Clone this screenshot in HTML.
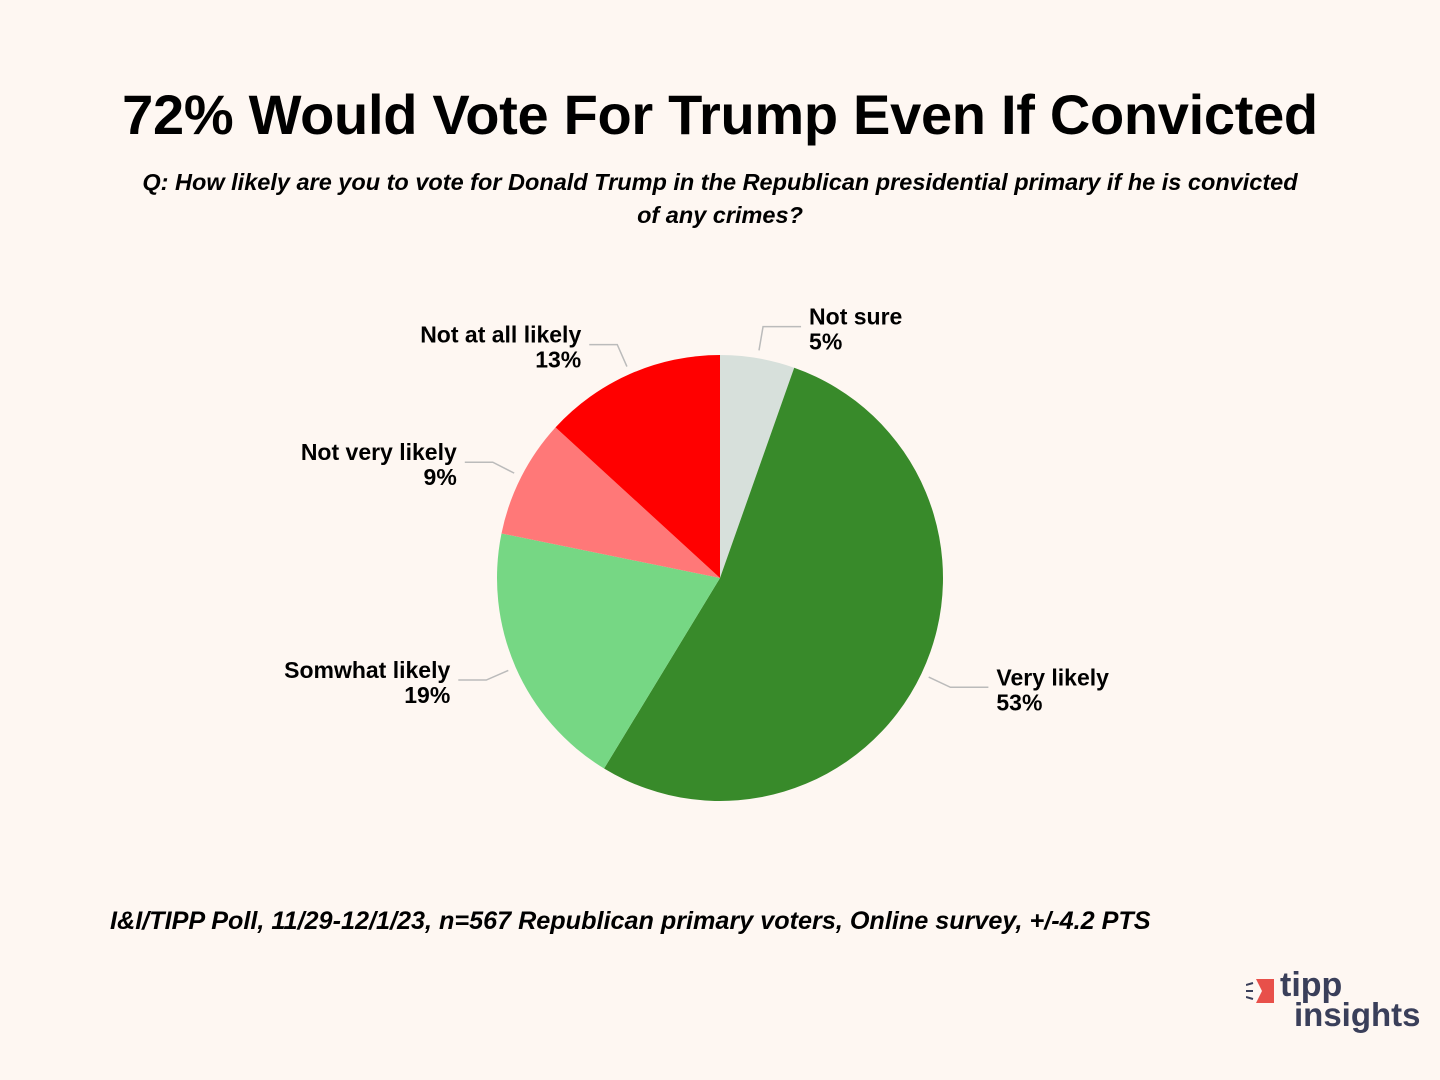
<!DOCTYPE html>
<html><head><meta charset="utf-8"><style>
body{margin:0;background:#fef7f2;font-family:"Liberation Sans",sans-serif;}
#wrap{position:relative;width:1440px;height:1080px;overflow:hidden;background:#fef7f2;}
.t{position:absolute;color:#000;}
</style></head><body>
<div id="wrap">
<div class="t" style="left:0;width:1440px;top:82px;text-align:center;font-size:56px;font-weight:bold;letter-spacing:-0.3px;">72% Would Vote For Trump Even If Convicted</div>
<div class="t" style="left:110px;width:1220px;top:166px;text-align:center;font-size:23.5px;font-weight:bold;font-style:italic;line-height:33px;">Q: How likely are you to vote for Donald Trump in the Republican presidential primary if he is convicted<br>of any crimes?</div>
<svg id="pie" width="1440" height="1080" style="position:absolute;left:0;top:0"></svg>
<div class="t" style="left:110px;top:907px;font-size:25.2px;font-weight:bold;font-style:italic;">I&amp;I/TIPP Poll, 11/29-12/1/23, n=567 Republican primary voters, Online survey, +/-4.2 PTS</div>
<div style="position:absolute;left:1246px;top:975px;">
<svg width="30" height="28" style="position:absolute;left:0;top:2px"><line x1="0" y1="8" x2="7" y2="6" stroke="#3a3f5a" stroke-width="2"/><line x1="0" y1="14" x2="7" y2="14" stroke="#3a3f5a" stroke-width="2"/><line x1="0" y1="20" x2="7" y2="22" stroke="#3a3f5a" stroke-width="2"/><polygon points="10,2 28,2 28,26 10,26 16,14" fill="#e8504a"/></svg>
<div style="position:absolute;left:34px;top:-6px;font-size:34px;font-weight:bold;color:#3a3f5a;line-height:32px;">tipp</div>
<div style="position:absolute;left:48px;top:24px;font-size:33px;font-weight:bold;color:#3a3f5a;line-height:32px;">insights</div>
</div>
</div>
<script>
const categories=["Not sure","Very likely","Somwhat likely","Not very likely","Not at all likely"];
const values=[5.4,53.3,19.5,8.6,13.2];
const printed=["5%","53%","19%","9%","13%"];
const colors=["#d7e0db","#388a2a","#76d784","#ff7878","#ff0000"];
const svg=document.getElementById('pie');
const NS="http://www.w3.org/2000/svg";
const cx=720,cy=578,r=223;
const total=values.reduce((a,b)=>a+b,0);
function pt(frac,rad){const a=frac*2*Math.PI;return [cx+rad*Math.sin(a),cy-rad*Math.cos(a)];}
let cum=0;
values.forEach((v,i)=>{
 const s=cum/total,e=(cum+v)/total;cum+=v;
 const p0=pt(s,r),p1=pt(e,r);
 const path=document.createElementNS(NS,'path');
 path.setAttribute('d',`M${cx},${cy}L${p0[0]},${p0[1]}A${r},${r} 0 ${e-s>0.5?1:0} 1 ${p1[0]},${p1[1]}Z`);
 path.setAttribute('fill',colors[i]);
 
 
 svg.appendChild(path);
 const m=(s+e)/2;const a=pt(m,r+8),b=pt(m,r+32);
 const right=Math.sin(m*2*Math.PI)>=0;
 const c=[b[0]+(right?38:-28),b[1]];
 const ln=document.createElementNS(NS,'polyline');
 ln.setAttribute('points',`${a[0]},${a[1]} ${b[0]},${b[1]} ${c[0]},${c[1]}`);
 ln.setAttribute('fill','none');ln.setAttribute('stroke','#bbbbbb');ln.setAttribute('stroke-width','1.5');
 
 
 svg.appendChild(ln);
 const tx=c[0]+(right?8:-8);
 const t=document.createElementNS(NS,'text');
 t.setAttribute('x',tx);t.setAttribute('y',c[1]-2);
 t.setAttribute('text-anchor',right?'start':'end');
 t.setAttribute('font-family','Liberation Sans, sans-serif');t.setAttribute('font-size','23');
 t.setAttribute('font-weight','bold');
 
 
 const s1=document.createElementNS(NS,'tspan');s1.setAttribute('x',tx);s1.textContent=categories[i];
 const s2=document.createElementNS(NS,'tspan');s2.setAttribute('x',tx);s2.setAttribute('dy','25');s2.textContent=printed[i];
 t.appendChild(s1);t.appendChild(s2);svg.appendChild(t);
});
</script>
</body></html>
